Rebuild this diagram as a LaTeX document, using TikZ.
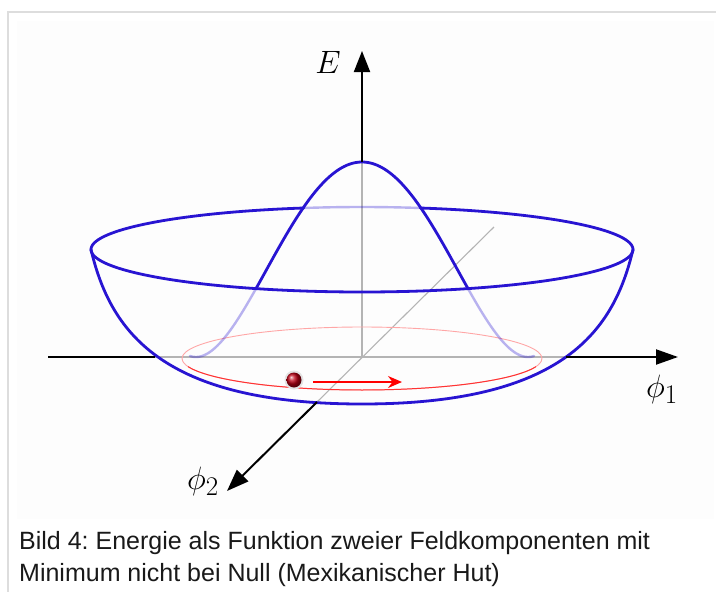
\documentclass[tikz,border=0pt]{standalone}
\usepackage{fontspec}
\newfontfamily\capfont{Liberation Sans}
\usetikzlibrary{arrows.meta}
\definecolor{hatblue}{RGB}{40,20,210}
\definecolor{framegray}{RGB}{221,221,221}
\definecolor{innerbg}{RGB}{253,253,253}
\definecolor{axisgray}{RGB}{180,180,180}
\definecolor{balldark}{RGB}{190,0,20}
\newcommand{\biglabel}[1]{\scalebox{1.3}{$#1$}}
\tikzset{
  hat/.style={hatblue, line width=2.8pt, line cap=round, line join=round},
  hatfaded/.style={hatblue, opacity=0.32, line width=2.4pt, line cap=round},
  axisblack/.style={black, line width=2pt},
  axisinner/.style={axisgray, line width=1.1pt},
  bigtip/.style={-{Triangle[length=21pt,width=16pt]}},
  mathlabel/.style={inner sep=0pt, anchor=base, font=\fontsize{24.88}{30}\selectfont},
  caption/.style={inner sep=0pt, anchor=base west, text=black!90, font=\capfont\fontsize{25}{30}\selectfont}
}
\begin{document}
\frenchspacing
\begin{tikzpicture}[x=1pt,y=-1pt]
\useasboundingbox (0,0) rectangle (716,592);
% frame
\fill[innerbg] (17,21) rectangle (714,519);
\draw[framegray, line width=2.2pt] (8,592) -- (8,12) -- (716,12);
% named points
\coordinate (O) at (362,357);
\coordinate (Etip) at (362,51);
\coordinate (Epeak) at (362,162);
\coordinate (P1L) at (48,357);
\coordinate (P1a) at (155,357);
\coordinate (P1b) at (566,357);
\coordinate (P1tip) at (678,357);
\coordinate (P2far) at (494,227);
\coordinate (P2b) at (317,402);
\coordinate (P2tip) at (227,491);
\coordinate (rimC) at (362,249.5);
\coordinate (rimL) at (91,249.5);
\coordinate (rimR) at (633,249.5);
\coordinate (bowlBot) at (362,404);
\coordinate (minC) at (362,358.5);
\coordinate (ball) at (294,380);
\coordinate (ra) at (313,382);
\coordinate (rb) at (402,382);
% inner gray axes
\draw[axisinner] (P1a) -- (P1b);
\draw[axisinner] (O) -- (Epeak);
\draw[axisinner] (P2far) -- (P2b);
% minimum circle
\draw[red!35, line width=0.9pt] (minC) ellipse [x radius=180pt, y radius=31.5pt];
\draw[red!80, line width=1pt] plot[domain=15:165, samples=60, smooth] ({362+180*cos(\x)},{358.5+31.5*sin(\x)});
% faded parts of the hump
\draw[hatfaded] plot[domain=-172:-105, samples=50, smooth] ({362+\x},{357-195*(1-(\x/166)*(\x/166))*(1-(\x/166)*(\x/166))});
\draw[hatfaded] plot[domain=105:172, samples=50, smooth] ({362+\x},{357-195*(1-(\x/166)*(\x/166))*(1-(\x/166)*(\x/166))});
% rim
\draw[hatfaded] plot[domain=77.6:102.4, samples=20, smooth] ({362+271*cos(\x)},{249.5-42.5*sin(\x)});
\draw[hat] plot[domain=102.4:437.6, samples=240, smooth] ({362+271*cos(\x)},{249.5-42.5*sin(\x)});
% bowl silhouette
\draw[hat] (rimL) .. controls (110,330) and (160,404) .. (bowlBot) .. controls (564,404) and (614,330) .. (rimR);
% hump
\draw[hat] plot[domain=-106:106, samples=90, smooth] ({362+\x},{357-195*(1-(\x/166)*(\x/166))*(1-(\x/166)*(\x/166))});
% black axes
\draw[axisblack, bigtip] (Epeak) -- (Etip);
\draw[axisblack] (P1L) -- (P1a);
\draw[axisblack, -{Triangle[length=22pt,width=15pt]}] (P1b) -- (P1tip);
\draw[axisblack, -{Triangle[length=22pt,width=16pt]}] (P2b) -- (P2tip);
% ball and motion arrow
\fill[gray!22] (ball) circle (9.5pt);
\shade[ball color=balldark] (ball) circle (7.5pt);
\draw[red, line width=1.8pt, -{Stealth[length=14pt,width=12pt]}] (ra) -- (rb);
% labels
\node[mathlabel] (lE) at (328,73) {\biglabel{E}};
\node[mathlabel] (lp1) at (662,397) {\biglabel{\phi_1}};
\node[mathlabel] (lp2) at (203,489) {\biglabel{\phi_2}};
% caption
\node[caption] (cap1) at (19,549) {Bild 4: Energie als Funktion zweier Feldkomponenten mit};
\node[caption] (cap2) at (19,581) {Minimum nicht bei Null (Mexikanischer Hut)};
\end{tikzpicture}
\end{document}
